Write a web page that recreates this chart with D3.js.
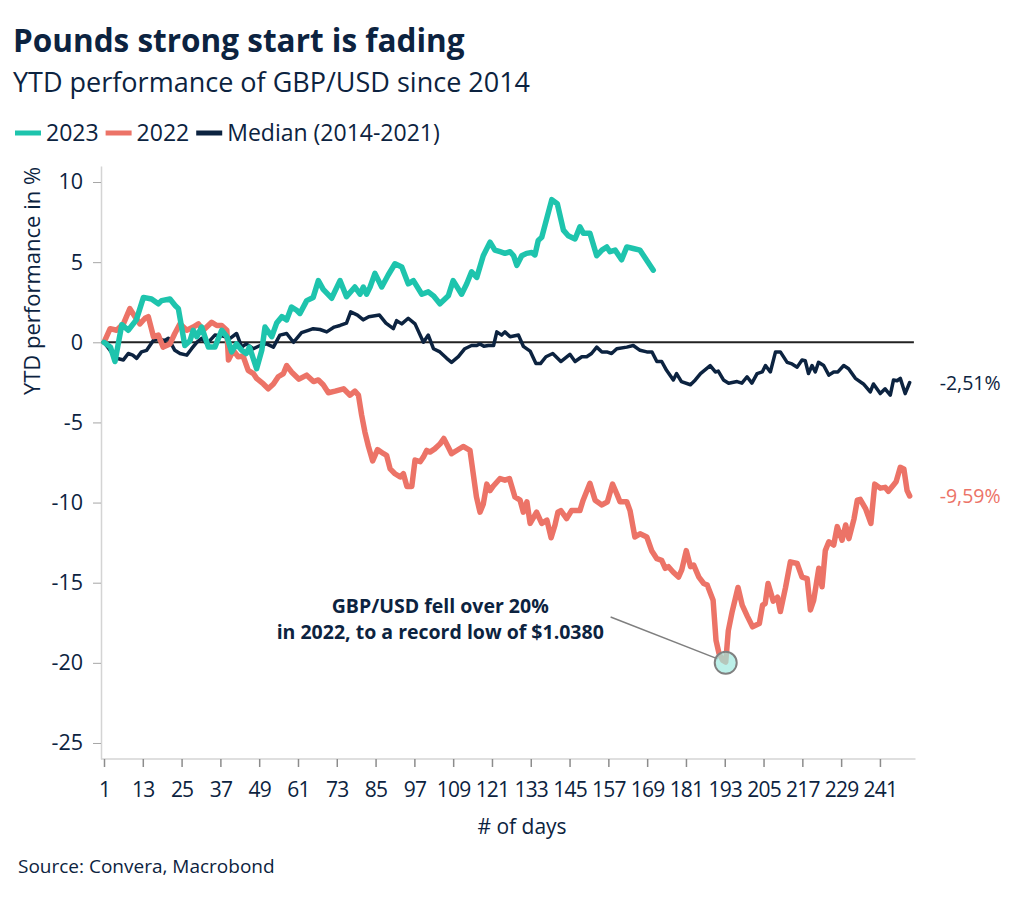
<!DOCTYPE html>
<html>
<head>
<meta charset="utf-8">
<script src="https://cdn.jsdelivr.net/npm/d3@7"></script>
<style>
  body { margin: 0; background: #fff; }
  svg { display: block; font-family: "Open Sans", "Noto Sans", sans-serif; }
</style>
</head>
<body>
<svg id="ch" width="1024" height="898"></svg>
<script>
// [day, YTD %]
const s2023 = [[1,0],[3,-0.3],[4.4,-1.2],[6.5,1.1],[8.5,0.75],[11,1.4],[13.2,2.8],[15.7,2.7],[17.8,2.4],[18.8,2.6],[21.4,2.7],[23,2.3],[24,2.1],[26,-0.2],[27.6,0.1],[28.6,0.75],[29.7,0.35],[31.2,0.95],[33.3,-0.3],[35.3,-0.3],[37.4,0.75],[39,0.35],[40.5,-0.6],[42,-0.1],[43.6,-0.5],[45,-0.7],[46,-0.3],[48.2,-1.65],[49.8,-0.5],[50.8,0.95],[52.9,0.35],[54.4,1.2],[56,1.6],[57.5,1.4],[59,2.2],[60.6,2.0],[61.6,1.8],[63.7,2.6],[65.7,2.8],[67.3,3.85],[68.8,3.3],[71.4,2.75],[74,3.85],[76,2.85],[78.6,3.45],[80.2,3.0],[81.2,3.45],[82.2,3.0],[83.3,3.45],[84.8,4.3],[86.9,3.45],[88.9,4.2],[91,4.9],[93.1,4.7],[95.1,3.65],[96.7,3.85],[99.3,3.0],[101.3,3.15],[102.9,2.9],[104.9,2.4],[107.5,2.9],[109,3.85],[111.6,3.0],[113.2,3.65],[114.7,4.4],[116.3,4.05],[118.3,5.4],[120.4,6.25],[121.9,5.75],[123.5,5.65],[125,5.55],[126.6,5.65],[127.7,5.4],[128.7,4.8],[130.2,5.4],[131.7,5.55],[133.3,5.6],[134.3,5.45],[135.3,6.35],[136.4,6.55],[139.5,8.9],[141.2,8.65],[143.1,7.0],[144.6,6.65],[146.7,6.45],[148.2,7.2],[149.3,6.8],[151.3,6.8],[153.4,5.4],[155,5.75],[156.5,5.95],[157.5,5.65],[159.1,5.75],[161.1,5.15],[162.7,5.95],[164.7,5.85],[166.8,5.75],[168.9,5.1],[170.9,4.5]];

const s2022 = [[1,0],[2.9,0.85],[4.9,0.75],[7,1.15],[9,2.1],[10.6,1.6],[12.1,1.15],[13.7,1.5],[14.7,1.6],[16.3,0.35],[17.8,0.45],[19.3,-0.3],[21.4,-0.1],[22.9,0.55],[24.5,1.15],[26.6,0.75],[28.6,0.95],[30.2,1.15],[31.7,0.75],[34.3,1.25],[35.9,1.05],[37.4,1.05],[39,0.75],[39.5,-1.1],[41,-0.5],[42.5,-0.9],[44,-0.85],[45.6,-1.75],[47.2,-1.95],[48.2,-2.25],[50.3,-2.6],[51.8,-2.9],[53.4,-2.6],[54.9,-2.15],[56.5,-1.95],[57.5,-1.45],[59,-1.85],[61.3,-2.3],[63.7,-2.05],[65.8,-2.45],[67.3,-2.35],[68.8,-2.65],[70.4,-3.15],[72.5,-3.05],[75.1,-2.9],[77.1,-3.3],[78.6,-3.05],[79.7,-3.3],[80.7,-4.55],[81.7,-5.6],[82.8,-6.5],[84.1,-7.4],[85.6,-6.7],[87.5,-6.95],[88.4,-7.05],[89.5,-7.9],[91,-8.2],[92.6,-8.4],[93.6,-8.2],[94.7,-9.0],[96.2,-9.0],[97.2,-7.35],[98.8,-7.45],[99.8,-7.15],[100.8,-6.75],[101.8,-6.85],[103.3,-6.65],[104.9,-6.35],[106.1,-6.0],[107.5,-6.55],[108.5,-6.95],[110.1,-6.75],[112.1,-6.5],[114.2,-6.75],[115.2,-8.2],[116.2,-9.65],[117.3,-10.6],[118.3,-10.1],[119.4,-8.85],[120.4,-9.25],[121.5,-8.95],[123.5,-8.5],[125,-8.6],[126.4,-8.5],[128.1,-9.65],[129.7,-9.85],[130.7,-10.6],[131.8,-9.95],[132.8,-11.3],[134.8,-10.6],[136.4,-11.3],[138,-11.1],[139.3,-12.2],[140.5,-11.4],[141.4,-10.6],[142.3,-10.5],[144.1,-11.0],[145.6,-10.5],[148.2,-10.5],[149.2,-9.85],[151.3,-8.8],[152.9,-9.85],[155,-10.15],[156.7,-9.95],[158.3,-8.85],[159.6,-9.45],[160.6,-9.95],[162.7,-9.95],[163.7,-10.5],[165.2,-12.15],[166.8,-11.95],[168.9,-12.15],[170.4,-13.0],[172,-13.5],[173.5,-13.6],[174.6,-14.1],[175.6,-14.0],[177.1,-14.35],[178.7,-14.65],[179.7,-14.2],[181.1,-13.0],[182.4,-14.0],[183.4,-13.9],[185,-14.65],[186.5,-15.05],[187.6,-15.15],[189.4,-16.1],[190.3,-18.6],[191.2,-19.4],[192.4,-19.85],[193.3,-19.95],[194.1,-18.0],[195.3,-16.8],[197.1,-15.3],[198.4,-16.4],[200,-17.1],[201.6,-17.75],[203.7,-17.55],[204.7,-16.4],[205.5,-16.3],[206.4,-15.05],[208,-16.15],[209.3,-15.9],[210.2,-16.8],[211.8,-15.3],[213.3,-13.7],[215.4,-13.8],[216.9,-14.65],[218.5,-14.75],[219.5,-16.7],[220.5,-16.1],[222.1,-14.1],[223.1,-15.25],[224.1,-13.0],[225.2,-12.45],[226.7,-12.65],[227.8,-11.5],[229.3,-12.35],[230.4,-11.4],[231.4,-12.25],[233,-11.0],[234,-9.85],[234.9,-9.8],[236.6,-10.4],[238.2,-11.3],[239.4,-8.85],[241.1,-9.1],[242.6,-9.05],[243.6,-9.3],[245.2,-8.9],[246,-8.7],[247.3,-7.8],[248.4,-7.9],[249.4,-9.25],[250.2,-9.59]];

const sMedian = [[1,0],[2.9,-0.5],[4.9,-1.0],[7,-1.1],[8.5,-0.7],[9.9,-0.8],[11.1,-1.0],[12.6,-0.6],[14.2,-0.5],[16.2,0.1],[17.8,0.25],[19.7,0.1],[20.9,0.25],[22.9,-0.5],[24.5,-0.7],[26.6,-0.8],[28.1,-0.4],[29.7,0],[31.2,0.25],[32.8,-0.1],[35.3,0.45],[37.5,0.4],[40,0.25],[42,0.55],[43.6,-0.3],[45,-0.1],[47.2,-0.4],[49.3,-0.2],[51.3,-0.1],[53.4,-0.3],[55.4,0.45],[57.5,0.55],[59.6,0],[62.1,0.6],[64.2,0.75],[65.7,0.85],[67.8,0.8],[69.9,0.65],[72.2,0.95],[74,1.05],[76,1.2],[77.3,1.9],[79.4,1.7],[81.2,1.4],[82.9,1.6],[86.2,1.7],[88.2,1.2],[90.5,0.85],[91.5,1.35],[93.1,1.15],[95.1,1.5],[97.2,1.15],[99.8,0],[101.3,0.45],[102.9,-0.4],[104.9,-0.6],[107,-1.0],[108.5,-1.25],[110.6,-0.9],[112.6,-0.4],[114.7,-0.2],[116.3,-0.2],[117.3,-0.1],[118.5,-0.25],[119.9,-0.2],[121.5,-0.2],[122.5,0.65],[124,0.45],[125,0.65],[126.6,0.35],[129.2,0.45],[130.7,-0.25],[132.8,-0.55],[134.6,-1.33],[136,-1.33],[137.7,-0.9],[139.8,-0.7],[142.3,-1.2],[145.1,-0.75],[146.7,-1.2],[148.8,-0.9],[150.3,-0.9],[151.8,-0.7],[153.4,-0.3],[155,-0.6],[156.5,-0.6],[158,-0.7],[159.6,-0.4],[162.7,-0.3],[164.7,-0.2],[166.8,-0.5],[168.9,-0.6],[170.5,-0.6],[172,-1.2],[173.5,-1.2],[175,-1.75],[177.1,-2.35],[178.1,-1.95],[179.6,-2.45],[182.4,-2.65],[183.9,-2.35],[185.5,-1.95],[188.5,-1.45],[190.1,-1.85],[191,-1.8],[192.6,-2.35],[194.2,-2.55],[196.8,-2.45],[198.3,-2.55],[199.9,-2.15],[201.4,-2.55],[203,-1.95],[204.6,-1.85],[205.6,-1.45],[207.1,-1.85],[208.7,-0.6],[210.2,-0.6],[212.3,-1.25],[213.8,-1.35],[215.4,-1.55],[216.9,-1.1],[217.9,-1.15],[218.9,-1.95],[220,-1.45],[221,-1.85],[222,-1.25],[223.6,-1.45],[225.2,-2.05],[226.7,-1.85],[228,-1.85],[229.8,-1.45],[231.3,-1.65],[233.4,-2.25],[235.9,-2.6],[238,-3.1],[239,-2.6],[241.1,-3.2],[242.6,-2.9],[244.2,-3.3],[245.2,-2.35],[246.3,-2.4],[247.3,-2.25],[248.8,-3.2],[250.2,-2.51]];

const xTicks = [1,13,25,37,49,61,73,85,97,109,121,133,145,157,169,181,193,205,217,229,241];
const yTicks = [10,5,0,-5,-10,-15,-20,-25];

const series = [
  { name: "Median (2014-2021)", data: sMedian, color: "#0c2340", width: 3.5, end: "-2,51%" },
  { name: "2022", data: s2022, color: "#ec7367", width: 5.5, end: "-9,59%" },
  { name: "2023", data: s2023, color: "#1ec4ad", width: 5.5, end: null }
];
const legendOrder = ["2023", "2022", "Median (2014-2021)"];

// annotation: record low point + text anchor, in data units
const lowPoint = [193.3, -20];
const noteLines = ["GBP/USD fell over 20%", "in 2022, to a record low of $1.0380"];
const noteAt = [105, -16.86];
const noteLineFrom = [157.7, -17.14];

const navy = "#0c2340";
const svg = d3.select("#ch");

const x = d3.scaleLinear().domain([1, 252]).range([104, 915.5]);
const y = d3.scaleLinear().domain([-26, 11]).range([759, 166]);

// titles
svg.append("text").attr("x", 13).attr("y", 52).attr("font-size", 31.5).attr("font-weight", 700)
  .attr("fill", navy).text("Pounds strong start is fading");
svg.append("text").attr("x", 13).attr("y", 92).attr("font-size", 27)
  .attr("fill", navy).text("YTD performance of GBP/USD since 2014");

// legend
const lg = svg.append("g").attr("transform", "translate(15,133)");
let lx = 0;
legendOrder.forEach(nm => {
  const s = series.find(d => d.name === nm);
  lg.append("line").attr("x1", lx).attr("x2", lx + 26).attr("y1", 0).attr("y2", 0)
    .attr("stroke", s.color).attr("stroke-width", 5);
  const t = lg.append("text").attr("x", lx + 31).attr("y", 8).attr("font-size", 23)
    .attr("fill", navy).text(nm);
  lx += 31 + t.node().getComputedTextLength() + 7;
});

// axes
const ya = svg.append("g").attr("transform", "translate(101,0)")
  .call(d3.axisLeft(y).tickValues(yTicks).tickFormat(d => String(d)).tickSize(8).tickPadding(10).tickSizeOuter(0));
ya.select(".domain").attr("stroke", "#d4d4d4").attr("stroke-width", 1.5);
ya.selectAll(".tick line").attr("stroke", "#a6a6a6");
ya.selectAll(".tick text").attr("font-size", 21.5).attr("fill", navy).attr("font-family", "Open Sans");

const xa = svg.append("g").attr("transform", "translate(0,759)")
  .call(d3.axisBottom(x).tickValues(xTicks).tickSize(8).tickPadding(15).tickSizeOuter(0));
xa.select(".domain").attr("stroke", "#d4d4d4").attr("stroke-width", 1.5)
  .attr("d", `M101,0H${x(252)}`);
xa.selectAll(".tick line").attr("stroke", "#8c8c8c").attr("stroke-width", 1.5);
xa.selectAll(".tick text").attr("font-size", 21).attr("fill", navy)
  .attr("font-family", "Open Sans").attr("letter-spacing", -0.8);

svg.append("text").attr("transform", "translate(40,281) rotate(-90)").attr("text-anchor", "middle")
  .attr("font-size", 22).attr("fill", navy).text("YTD performance in %");
svg.append("text").attr("x", 522).attr("y", 834).attr("text-anchor", "middle")
  .attr("font-size", 21).attr("fill", navy).text("# of days");
svg.append("text").attr("x", 18).attr("y", 873).attr("font-size", 19)
  .attr("fill", navy).text("Source: Convera, Macrobond");

// zero line
svg.append("line").attr("x1", 101).attr("x2", x(251.5)).attr("y1", y(0)).attr("y2", y(0))
  .attr("stroke", "#222").attr("stroke-width", 2);

// series
const line = d3.line().x(d => x(d[0])).y(d => y(d[1]));
svg.append("g").selectAll("path").data(series).enter().append("path")
  .attr("d", d => line(d.data)).attr("fill", "none")
  .attr("stroke", d => d.color).attr("stroke-width", d => d.width)
  .attr("stroke-linejoin", "round").attr("stroke-linecap", "round");

// end labels
svg.append("g").selectAll("text").data(series.filter(d => d.end)).enter().append("text")
  .attr("x", d => x(d.data[d.data.length - 1][0]) + 30)
  .attr("y", d => y(d.data[d.data.length - 1][1]) + 7)
  .attr("font-size", 19.5).attr("fill", d => d.color).text(d => d.end);

// annotation
svg.append("line").attr("x1", x(noteLineFrom[0])).attr("y1", y(noteLineFrom[1]))
  .attr("x2", x(lowPoint[0]) - 8).attr("y2", y(lowPoint[1]) - 4)
  .attr("stroke", "#7f7f7f").attr("stroke-width", 1.5);
svg.append("circle").attr("cx", x(lowPoint[0])).attr("cy", y(lowPoint[1])).attr("r", 11)
  .attr("fill", "#9fe9df").attr("fill-opacity", 0.7).attr("stroke", "#808080").attr("stroke-width", 2);
const nt = svg.append("text").attr("text-anchor", "middle").attr("font-size", 19.5)
  .attr("font-weight", 700).attr("fill", navy);
noteLines.forEach((s, i) => {
  nt.append("tspan").attr("x", x(noteAt[0])).attr("y", y(noteAt[1]) + i * 26).text(s);
});
</script>
</body>
</html>
